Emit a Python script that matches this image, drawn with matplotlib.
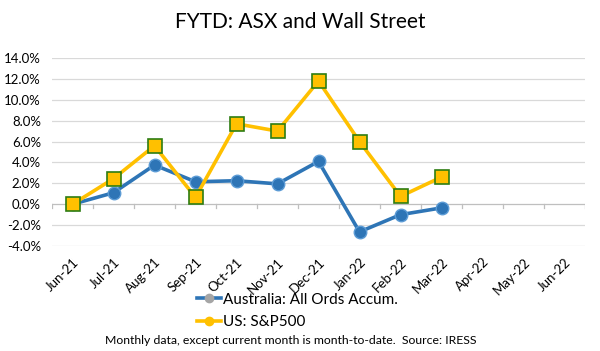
import matplotlib
matplotlib.use('Agg')
import matplotlib.pyplot as plt
from matplotlib.lines import Line2D
import numpy as np

months = ['Jun-21', 'Jul-21', 'Aug-21', 'Sep-21', 'Oct-21', 'Nov-21', 'Dec-21',
          'Jan-22', 'Feb-22', 'Mar-22', 'Apr-22', 'May-22', 'Jun-22']
aus = [0.0, 1.1, 3.75, 2.15, 2.25, 1.95, 4.1, -2.65, -1.0, -0.35]
us = [0.0, 2.45, 5.6, 0.65, 7.7, 7.0, 11.8, 6.0, 0.75, 2.6]
yticks = [-4, -2, 0, 2, 4, 6, 8, 10, 12, 14]

plt.rcParams['font.family'] = ['Lato', 'DejaVu Sans']

fig = plt.figure(figsize=(6, 3.51), dpi=100)
ax = fig.add_axes([52 / 600, 1 - 246 / 351, 533 / 600, 188 / 351])

x = np.arange(len(months))
ax.plot(x[:len(aus)], aus, color='#2E75B6', lw=2.6, marker='o', ms=9,
        mfc='#2E75B6', mec='#5B9BD5', mew=1.0, zorder=3)
ax.plot(x[:len(us)], us, color='#FFC000', lw=2.6, marker='s', ms=10,
        mfc='#FFC000', mec='#2E7D12', mew=1.2, zorder=4)

ax.set_xlim(-0.5, len(months) - 0.5)
ax.set_ylim(-4, 14)
ax.set_yticks(yticks)
ax.set_yticklabels(['%.1f%%' % v for v in yticks], fontsize=9.5)
for v in yticks:
    if v != 0:
        ax.axhline(v, color='#D9D9D9', lw=0.9, zorder=0)
ax.axhline(0, color='#BFBFBF', lw=0.9, zorder=1)
for i in range(len(months) + 1):
    ax.plot([i - 0.5, i - 0.5], [0, -0.35], color='#BFBFBF', lw=0.9, zorder=1)

ax.set_xticks(x)
ax.set_xticklabels(months, rotation=45, ha='right', va='top',
                   rotation_mode='anchor', fontsize=9.5)
ax.tick_params(axis='both', length=0)
ax.tick_params(axis='x', pad=7)
ax.tick_params(axis='y', pad=8)
for s in ax.spines.values():
    s.set_visible(False)

fig.text(0.5, 1 - 22 / 351, 'FYTD: ASX and Wall Street', ha='center', va='center', fontsize=15)

handles = [Line2D([], [], color='#2E75B6', lw=2.6, marker='o', ms=6, mfc='#A5A5A5', mec='#A5A5A5'),
           Line2D([], [], color='#FFC000', lw=2.6, marker='o', ms=6, mfc='#FFC000', mec='#FFC000')]
fig.legend(handles, ['Australia: All Ords Accum.', 'US: S&P500'], loc='center left',
           bbox_to_anchor=(189 / 600, 1 - 311 / 351), frameon=False, fontsize=11,
           handlelength=1.6, handletextpad=0.1, labelspacing=0.55, borderpad=0)

fig.text(0.485, 1 - 340 / 351, 'Monthly data, except current month is month-to-date.  Source: IRESS',
         ha='center', va='center', fontsize=8.8)

fig.savefig('out.png', dpi=100, facecolor='white')
